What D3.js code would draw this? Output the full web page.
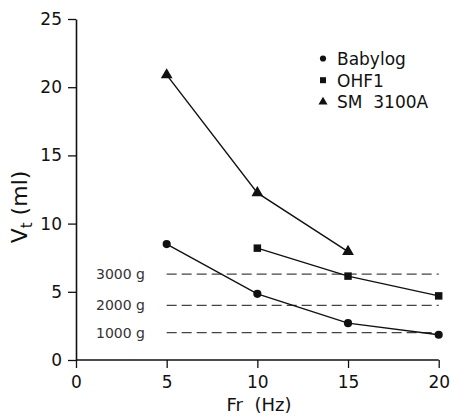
<!DOCTYPE html>
<html>
<head>
<meta charset="utf-8">
<script src="https://cdn.jsdelivr.net/npm/d3@7"></script>
<style>
  body { margin: 0; background: white; }
  text { font-family: "DejaVu Sans", sans-serif; }
</style>
</head>
<body>
<script>
// data
const freqs = [5, 10, 15, 20];
const babylog = [8.5, 4.85, 2.7, 1.85];
const ohf1 = [null, 8.2, 6.15, 4.7];
const sm3100a = [20.9, 12.25, 7.95, null];
const refWeights = ["3000 g", "2000 g", "1000 g"];
const refValues = [6.3, 4.0, 2.0];
const xTicks = [0, 5, 10, 15, 20];
const yTicks = [0, 5, 10, 15, 20, 25];

const W = 452, H = 415;
const svg = d3.select("body")
    .append("svg")
    .attr("width", W)
    .attr("height", H);

const x = d3.scaleLinear().domain([0, 20]).range([76, 438.7]);
const y = d3.scaleLinear().domain([0, 25]).range([360, 19]);

// axes
const xAxis = svg.append("g")
    .attr("transform", `translate(0,${y(0)})`)
    .call(d3.axisBottom(x).tickValues(xTicks).tickSize(8).tickPadding(8).tickSizeOuter(0));
const yAxis = svg.append("g")
    .attr("transform", `translate(${x(0)},0)`)
    .call(d3.axisLeft(y).tickValues(yTicks).tickSize(8).tickPadding(6).tickSizeOuter(0));

[xAxis, yAxis].forEach(g => {
    g.select(".domain").attr("stroke", "#111").attr("stroke-width", 1.6);
    g.selectAll(".tick line").attr("stroke", "#111").attr("stroke-width", 1.3);
    g.selectAll(".tick text")
        .attr("font-size", "17px")
        .attr("fill", "#111")
        .style("font-family", "DejaVu Sans, sans-serif");
});
xAxis.select(".domain").attr("d", `M${x(0)},0H${x(20)}`);

// axis titles
svg.append("text")
    .attr("x", 259)
    .attr("y", 410.5)
    .attr("text-anchor", "middle")
    .attr("font-size", "18px")
    .attr("fill", "#111")
    .style("white-space", "pre")
    .text("Fr  (Hz)");

const yt = svg.append("text")
    .attr("transform", `translate(27,207) rotate(-90)`)
    .attr("text-anchor", "middle")
    .attr("font-size", "22px")
    .attr("fill", "#111")
    .style("white-space", "pre");
yt.append("tspan").text("V");
yt.append("tspan").attr("font-size", "15px").attr("dy", 5).text("t");
yt.append("tspan").attr("dy", -5).text(" (ml)");

// dashed reference lines
refValues.forEach((v, i) => {
    svg.append("line")
        .attr("x1", x(5))
        .attr("x2", x(20))
        .attr("y1", y(v))
        .attr("y2", y(v))
        .attr("stroke", "#444")
        .attr("stroke-width", 1.3)
        .attr("stroke-dasharray", "10,5");
    svg.append("text")
        .attr("x", 145)
        .attr("y", y(v) + 5)
        .attr("text-anchor", "end")
        .attr("font-size", "14px")
        .attr("fill", "#333")
        .text(refWeights[i]);
});

// series
const series = [
    { name: "Babylog", values: babylog, sym: d3.symbolCircle, size: 52, lsize: 30 },
    { name: "OHF1", values: ohf1, sym: d3.symbolSquare, size: 56, lsize: 36 },
    { name: "SM  3100A", values: sm3100a, sym: d3.symbolTriangle, size: 60, lsize: 36 }
];

const line = d3.line()
    .defined(d => d[1] != null)
    .x(d => x(d[0]))
    .y(d => y(d[1]));

series.forEach((s, i) => {
    const pts = freqs.map((f, j) => [f, s.values[j]]);
    svg.append("path")
        .attr("d", line(pts))
        .attr("fill", "none")
        .attr("stroke", "#111")
        .attr("stroke-width", 1.4);
    svg.selectAll(null)
        .data(pts.filter(d => d[1] != null))
        .enter()
        .append("path")
        .attr("d", d3.symbol().type(s.sym).size(s.size))
        .attr("transform", d => `translate(${x(d[0])},${y(d[1])})`)
        .attr("fill", "#111");

    // legend
    const ly = 58.5 + i * 21.7;
    svg.append("path")
        .attr("d", d3.symbol().type(s.sym).size(s.lsize))
        .attr("transform", `translate(323,${ly})`)
        .attr("fill", "#111");
    svg.append("text")
        .attr("x", 337)
        .attr("y", ly + 6.5)
        .attr("font-size", "17px")
        .attr("fill", "#111")
        .style("white-space", "pre")
        .text(s.name);
});
</script>
</body>
</html>
